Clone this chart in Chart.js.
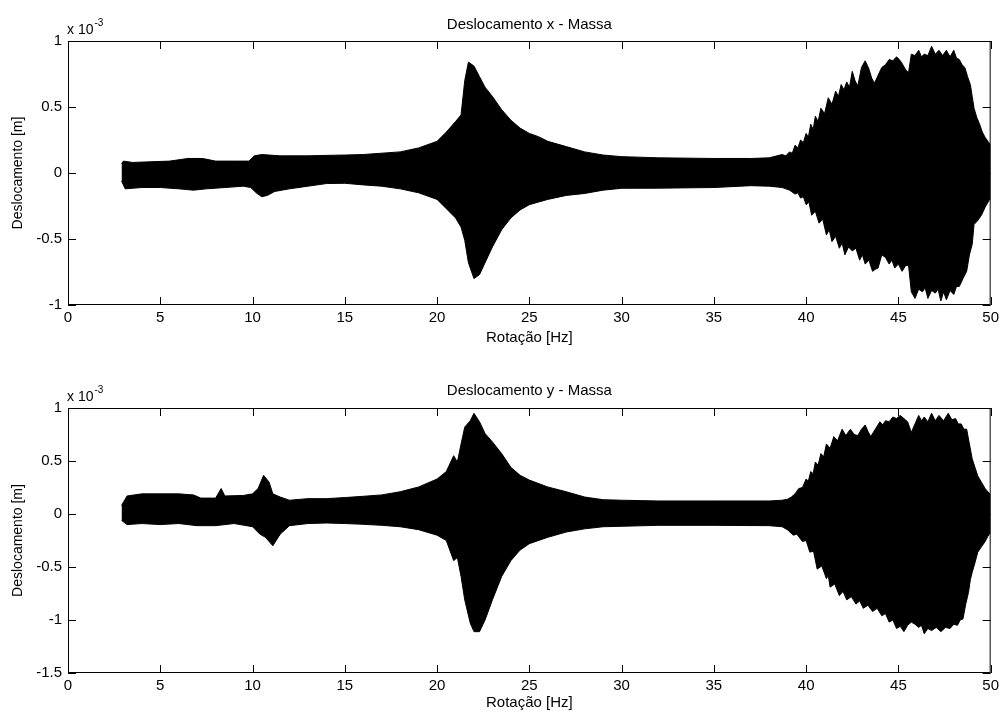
<!DOCTYPE html>
<html>
<head>
<meta charset="utf-8">
<title>Deslocamento - Massa</title>
<script src="https://cdn.jsdelivr.net/npm/chart.js@4.4.1/dist/chart.umd.min.js"></script>
<style>
    html, body { margin: 0; padding: 0; background: #fff; }
    .panel { position: absolute; left: 0; width: 1003px; }
    #topPanel { top: 0; height: 356px; }
    #bottomPanel { top: 356px; height: 357px; }
</style>
</head>
<body>
<div class="panel" id="topPanel"><canvas id="chartX" width="1003" height="356"></canvas></div>
<div class="panel" id="bottomPanel"><canvas id="chartY" width="1003" height="357"></canvas></div>
<script>
// values are in units of 1e-3 m (axis shows "x 10^-3")
const xTicks = [0, 5, 10, 15, 20, 25, 30, 35, 40, 45, 50];
const topTicks = [-1, -0.5, 0, 0.5, 1];
const bottomTicks = [-1.5, -1, -0.5, 0, 0.5, 1];

// Deslocamento x - upper envelope
const topUpperHz = [
    2.9, 3.0, 3.5, 4.5, 5.5, 6.5, 7.3, 8.0, 9.0, 9.8,
    10.1, 10.5, 11.5, 13, 14.5, 15, 16, 17, 18, 19,
    20, 20.5, 21, 21.3, 21.5, 21.7, 22, 22.3, 22.6, 23,
    23.5, 24, 24.5, 25, 25.5, 26, 27, 28, 29, 30,
    32, 35, 37, 38, 38.7, 38.9, 39.1, 39.25, 39.4, 39.55,
    39.7, 39.85, 40.0, 40.12, 40.25, 40.38, 40.5, 40.65, 40.8, 41.0,
    41.2, 41.4, 41.6, 41.75, 41.9, 42.05, 42.2, 42.35, 42.5, 42.65,
    42.8, 43.0, 43.2, 43.4, 43.55, 43.7, 43.9, 44.1, 44.3, 44.5,
    44.7, 44.9, 45.05, 45.2, 45.4, 45.55, 45.7, 45.9, 46.1, 46.25,
    46.4, 46.6, 46.8, 47.0, 47.2, 47.4, 47.6, 47.8, 48.0, 48.15,
    48.3, 48.45, 48.6, 48.75, 48.9, 49.0, 49.1, 49.25, 49.4, 49.55,
    49.7, 49.85, 50.0
];
const topUpper = [
    0.07, 0.09, 0.08, 0.085, 0.09, 0.11, 0.11, 0.09, 0.09, 0.09,
    0.13, 0.14, 0.13, 0.13, 0.135, 0.136, 0.14, 0.15, 0.16, 0.19,
    0.24, 0.31, 0.39, 0.44, 0.70, 0.84, 0.81, 0.73, 0.65, 0.58,
    0.48, 0.40, 0.34, 0.30, 0.275, 0.24, 0.20, 0.16, 0.136, 0.124,
    0.115, 0.11, 0.11, 0.115, 0.14, 0.13, 0.16, 0.15, 0.21, 0.19,
    0.25, 0.23, 0.30, 0.27, 0.37, 0.33, 0.43, 0.39, 0.49, 0.45,
    0.57, 0.52, 0.62, 0.58, 0.67, 0.63, 0.69, 0.65, 0.77, 0.70,
    0.66, 0.80, 0.85, 0.79, 0.72, 0.68, 0.74, 0.80, 0.82, 0.86,
    0.85, 0.88, 0.86, 0.83, 0.78, 0.76, 0.90, 0.89, 0.93, 0.88,
    0.90, 0.89, 0.96, 0.90, 0.93, 0.89, 0.93, 0.88, 0.93, 0.87,
    0.86, 0.82, 0.80, 0.73, 0.67, 0.58, 0.49, 0.42, 0.37, 0.31,
    0.27, 0.24, 0.21
];

// Deslocamento x - lower envelope
const topLowerHz = [
    2.9, 3.1, 4, 5, 6, 6.8, 7.5, 8.5, 9.5, 9.9,
    10.2, 10.5, 10.8, 11.2, 12, 13, 14, 15, 16, 17,
    18, 19, 20, 20.5, 21, 21.3, 21.5, 21.7, 22, 22.3,
    22.6, 23, 23.5, 24, 24.5, 25, 25.5, 26, 27, 28,
    29, 30, 32, 35, 37, 38, 38.7, 38.9, 39.1, 39.4,
    39.55, 39.7, 39.85, 40.0, 40.15, 40.3, 40.5, 40.7, 40.9, 41.1,
    41.25, 41.4, 41.6, 41.8, 41.95, 42.1, 42.3, 42.5, 42.7, 42.9,
    43.05, 43.2, 43.4, 43.6, 43.75, 43.9, 44.1, 44.3, 44.5, 44.65,
    44.8, 45.0, 45.2, 45.4, 45.55, 45.7, 45.9, 46.1, 46.3, 46.45,
    46.6, 46.8, 47.0, 47.15, 47.3, 47.45, 47.6, 47.8, 48.0, 48.15,
    48.3, 48.5, 48.7, 48.85, 49.0, 49.1, 49.3, 49.5, 49.7, 49.9,
    50.0
];
const topLower = [
    -0.06, -0.12, -0.11, -0.11, -0.12, -0.13, -0.12, -0.11, -0.10, -0.11,
    -0.15, -0.18, -0.17, -0.14, -0.12, -0.10, -0.08, -0.078, -0.09, -0.10,
    -0.12, -0.15, -0.20, -0.27, -0.34, -0.41, -0.51, -0.68, -0.80, -0.77,
    -0.68, -0.56, -0.43, -0.34, -0.28, -0.24, -0.22, -0.20, -0.17, -0.155,
    -0.13, -0.116, -0.115, -0.11, -0.096, -0.10, -0.11, -0.12, -0.13, -0.16,
    -0.15, -0.19, -0.18, -0.24, -0.22, -0.32, -0.29, -0.38, -0.35, -0.47,
    -0.43, -0.52, -0.48, -0.57, -0.53, -0.62, -0.56, -0.59, -0.57, -0.66,
    -0.62, -0.69, -0.66, -0.745, -0.73, -0.72, -0.62, -0.64, -0.69, -0.66,
    -0.72, -0.69, -0.745, -0.70, -0.70, -0.90, -0.95, -0.88, -0.90, -0.87,
    -0.95, -0.89, -0.91, -0.88, -0.97, -0.90, -0.96, -0.89, -0.92, -0.86,
    -0.86, -0.80, -0.745, -0.62, -0.54, -0.39, -0.36, -0.32, -0.26, -0.21,
    -0.19
];

// Deslocamento y - upper envelope
const bottomUpperHz = [
    2.9, 3.2, 4, 5, 6, 6.8, 7.2, 8.0, 8.3, 8.5,
    9.5, 10.0, 10.3, 10.6, 10.9, 11.1, 11.5, 12, 13, 14,
    15, 16, 17, 18, 19, 20, 20.5, 20.9, 21.1, 21.3,
    21.5, 21.8, 22.0, 22.3, 22.6, 23, 23.5, 24, 24.5, 25,
    26, 27, 28, 29, 30, 32, 35, 38, 38.7, 39.0,
    39.2, 39.4, 39.6, 39.8, 40.0, 40.12, 40.25, 40.38, 40.5, 40.65,
    40.8, 40.95, 41.1, 41.3, 41.5, 41.7, 41.95, 42.15, 42.4, 42.6,
    42.8, 43.0, 43.2, 43.35, 43.5, 43.75, 44.0, 44.15, 44.3, 44.5,
    44.7, 44.9, 45.1, 45.3, 45.5, 45.7, 45.9, 46.1, 46.25, 46.4,
    46.6, 46.8, 47.0, 47.2, 47.45, 47.7, 47.9, 48.1, 48.25, 48.4,
    48.55, 48.7, 48.85, 49.0, 49.15, 49.3, 49.5, 49.7, 49.85, 50.0
];
const bottomUpper = [
    0.08, 0.17, 0.19, 0.19, 0.19, 0.18, 0.15, 0.15, 0.24, 0.17,
    0.175, 0.19, 0.24, 0.365, 0.30, 0.19, 0.16, 0.13, 0.145, 0.145,
    0.155, 0.167, 0.18, 0.21, 0.255, 0.33, 0.40, 0.55, 0.49, 0.66,
    0.82, 0.88, 0.95, 0.87, 0.76, 0.68, 0.57, 0.44, 0.365, 0.32,
    0.255, 0.21, 0.16, 0.135, 0.13, 0.123, 0.123, 0.123, 0.13, 0.14,
    0.16, 0.19, 0.24, 0.25, 0.33, 0.31, 0.40, 0.38, 0.49, 0.46,
    0.57, 0.54, 0.66, 0.62, 0.73, 0.69, 0.80, 0.74, 0.80, 0.75,
    0.74, 0.80, 0.84, 0.78, 0.73, 0.80, 0.87, 0.84, 0.88, 0.87,
    0.915, 0.90, 0.93, 0.90, 0.87, 0.77, 0.85, 0.93, 0.88, 0.915,
    0.87, 0.95, 0.88, 0.93, 0.88, 0.95, 0.89, 0.90, 0.85, 0.85,
    0.80, 0.80, 0.66, 0.52, 0.44, 0.36, 0.30, 0.24, 0.21, 0.18
];

// Deslocamento y - lower envelope
const bottomLowerHz = [
    2.9, 3.2, 4, 5, 6, 7, 8, 9, 10.0, 10.4,
    10.7, 10.9, 11.1, 11.5, 12, 13, 14, 15, 16, 17,
    18, 19, 20, 20.5, 20.9, 21.1, 21.3, 21.5, 21.8, 22.0,
    22.3, 22.6, 23, 23.5, 24, 24.5, 25, 26, 27, 28,
    29, 30, 32, 35, 38, 38.7, 39.0, 39.3, 39.5, 39.8,
    40.0, 40.2, 40.4, 40.6, 40.85, 41.1, 41.2, 41.3, 41.55, 41.8,
    42.0, 42.2, 42.45, 42.7, 42.9, 43.1, 43.35, 43.6, 43.85, 44.1,
    44.3, 44.5, 44.7, 44.9, 45.1, 45.3, 45.5, 45.7, 45.9, 46.1,
    46.25, 46.4, 46.6, 46.8, 47.05, 47.3, 47.55, 47.8, 48.0, 48.2,
    48.35, 48.5, 48.65, 48.8, 48.9, 49.0, 49.15, 49.3, 49.5, 49.7,
    49.85, 50.0
];
const bottomLower = [
    -0.06, -0.10, -0.09, -0.10, -0.09, -0.11, -0.11, -0.09, -0.12, -0.19,
    -0.22, -0.26, -0.30, -0.19, -0.11, -0.09, -0.085, -0.09, -0.097, -0.107,
    -0.12, -0.148, -0.20, -0.25, -0.44, -0.41, -0.59, -0.81, -1.03, -1.11,
    -1.11, -1.0, -0.81, -0.59, -0.44, -0.34, -0.28, -0.22, -0.17, -0.14,
    -0.12, -0.116, -0.107, -0.107, -0.11, -0.12, -0.15, -0.20, -0.19, -0.26,
    -0.25, -0.36, -0.35, -0.52, -0.49, -0.61, -0.58, -0.69, -0.66, -0.77,
    -0.73, -0.81, -0.78, -0.85, -0.82, -0.89, -0.86, -0.92, -0.89, -0.96,
    -0.94, -1.02, -1.00, -1.08, -1.06, -1.11, -1.05, -1.02, -1.04, -1.07,
    -1.05, -1.13, -1.08, -1.10, -1.07, -1.11, -1.07, -1.08, -1.04, -1.05,
    -1.00, -0.99, -0.85, -0.74, -0.62, -0.55, -0.46, -0.36, -0.31, -0.26,
    -0.21, -0.17
];

const FONT = '"Liberation Sans", Arial, sans-serif';
Chart.defaults.font.family = FONT;
Chart.defaults.font.size = 15;
Chart.defaults.color = '#000';

// MATLAB-like box, inward ticks on all four sides and the "x 10^-3" exponent
const matlabAxes = {
    id: 'matlabAxes',
    afterDatasetsDraw(chart) {
        const { ctx, chartArea: a, scales: { x, y } } = chart;
        const len = 8;
        ctx.save();
        ctx.strokeStyle = '#000';
        ctx.lineWidth = 1;
        ctx.strokeRect(a.left + 0.5, a.top + 0.5, a.right - a.left - 1, a.bottom - a.top - 1);
        ctx.beginPath();
        x.ticks.forEach(t => {
            const px = Math.round(x.getPixelForValue(t.value)) + 0.5;
            ctx.moveTo(px, a.bottom); ctx.lineTo(px, a.bottom - len);
            ctx.moveTo(px, a.top); ctx.lineTo(px, a.top + len);
        });
        y.ticks.forEach(t => {
            const py = Math.round(y.getPixelForValue(t.value)) + 0.5;
            ctx.moveTo(a.left, py); ctx.lineTo(a.left + len, py);
            ctx.moveTo(a.right, py); ctx.lineTo(a.right - len, py);
        });
        ctx.stroke();

        ctx.fillStyle = '#000';
        ctx.textAlign = 'left';
        ctx.textBaseline = 'alphabetic';
        ctx.font = '14px ' + FONT;
        ctx.fillText('x 10', a.left - 1, a.top - 7);
        const w = ctx.measureText('x 10').width;
        ctx.font = '10px ' + FONT;
        ctx.fillText('-3', a.left + w, a.top - 15);
        ctx.restore();
    }
};

function toPoints(hz, values) {
    return hz.map((f, i) => ({ x: f, y: values[i] }));
}

function makeChart(id, opts) {
    return new Chart(document.getElementById(id), {
        type: 'line',
        data: {
            datasets: [{
                data: toPoints(opts.upperHz, opts.upper),
                borderColor: '#000',
                borderWidth: 1,
                pointRadius: 0,
                tension: 0,
                fill: false
            }, {
                data: toPoints(opts.lowerHz, opts.lower),
                borderColor: '#000',
                backgroundColor: '#000',
                borderWidth: 1,
                pointRadius: 0,
                tension: 0,
                fill: '-1'
            }]
        },
        options: {
            responsive: false,
            animation: false,
            devicePixelRatio: 1,
            layout: { padding: { left: 0, right: 7, top: 0, bottom: 0 } },
            plugins: {
                legend: { display: false },
                tooltip: { enabled: false },
                title: {
                    display: true,
                    text: opts.title,
                    fullSize: false,
                    font: { size: 15, weight: 'normal' },
                    padding: { top: opts.titleTop, bottom: opts.titleBottom }
                }
            },
            scales: {
                x: {
                    type: 'linear',
                    min: 0,
                    max: 50,
                    afterBuildTicks: s => { s.ticks = xTicks.map(v => ({ value: v })); },
                    grid: { display: false, drawTicks: false },
                    border: { display: false },
                    ticks: { padding: 4, maxRotation: 0, autoSkip: false, callback: v => String(v) },
                    title: { display: true, text: 'Rotação [Hz]', padding: { top: 0, bottom: opts.xTitlePad } },
                    afterFit: s => { s.height = opts.xHeight; }
                },
                y: {
                    type: 'linear',
                    min: opts.yTicks[0],
                    max: opts.yTicks[opts.yTicks.length - 1],
                    afterBuildTicks: s => { s.ticks = opts.yTicks.map(v => ({ value: v })); },
                    grid: { display: false, drawTicks: false },
                    border: { display: false },
                    ticks: { padding: 6, callback: v => String(v) },
                    title: { display: true, text: 'Deslocamento [m]', font: { size: 14 }, padding: { top: 9.6, bottom: 0 } },
                    afterFit: s => { s.width = 68; }
                }
            }
        },
        plugins: [matlabAxes]
    });
}

makeChart('chartX', {
    title: 'Deslocamento x - Massa',
    upperHz: topUpperHz, upper: topUpper,
    lowerHz: topLowerHz, lower: topLower,
    yTicks: topTicks,
    titleTop: 16, titleBottom: 7,
    xHeight: 51, xTitlePad: 9
});

makeChart('chartY', {
    title: 'Deslocamento y - Massa',
    upperHz: bottomUpperHz, upper: bottomUpper,
    lowerHz: bottomLowerHz, lower: bottomLower,
    yTicks: bottomTicks,
    titleTop: 26, titleBottom: 8,
    xHeight: 40, xTitlePad: 1
});
</script>
</body>
</html>
